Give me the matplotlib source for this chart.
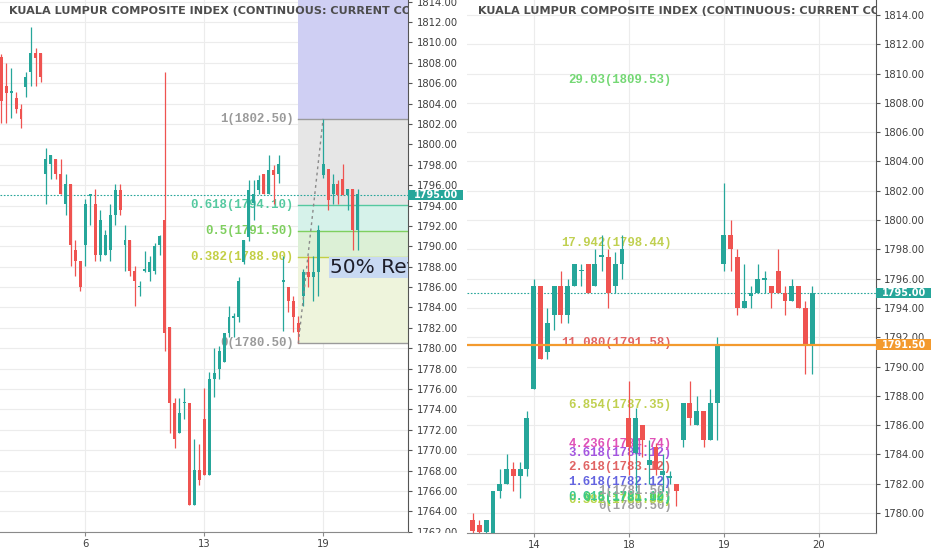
import numpy as np
import matplotlib
matplotlib.use("Agg")
import matplotlib.pyplot as plt
import matplotlib.transforms as mtransforms
from matplotlib.patches import Rectangle

TEAL = "#26a69a"
RED = "#ef5350"
ORANGE = "#f39a2e"
TXT = "#3f3f3f"
TITLE = "KUALA LUMPUR COMPOSITE INDEX (CONTINUOUS: CURRENT CONTRACT IN FRONT)"

# ---- left panel: hourly bars ----
left_open = [1808.6, 1805.7, 1805.0, 1804.5, 1803.5, 1805.6, 1807.1, 1809.0, 1809.0, 1797.1,
             1798.1, 1798.6, 1797.1, 1794.1, 1796.1, 1789.6, 1788.6, 1790.1, 1794.9, 1794.1,
             1789.1, 1789.1, 1789.6, 1793.1, 1795.5, 1790.1, 1790.6, 1787.6, 1786.0, 1787.6,
             1787.5, 1787.6, 1790.1, 1792.6, 1782.1, 1774.6, 1771.7, 1774.6, 1774.6, 1764.6,
             1768.1, 1773.1, 1767.6, 1777.0, 1778.0, 1778.6, 1781.5, 1783.0, 1783.1, 1788.5,
             1790.9, 1794.2, 1795.5, 1797.1, 1795.1, 1797.5, 1797.1, 1786.5, 1786.0, 1784.6,
             1782.5, 1785.1, 1787.5, 1787.0, 1787.5, 1797.0, 1797.6, 1795.1, 1796.1, 1796.6,
             1795.0, 1795.6, 1791.6]
left_high = [1808.9, 1808.0, 1807.5, 1805.1, 1804.0, 1807.1, 1811.5, 1809.5, 1809.0, 1799.6,
             1799.0, 1798.6, 1798.6, 1797.1, 1796.1, 1790.6, 1788.6, 1794.6, 1795.1, 1795.6,
             1793.6, 1791.6, 1794.1, 1796.1, 1796.1, 1792.1, 1790.6, 1788.1, 1786.6, 1789.5,
             1789.0, 1790.3, 1791.1, 1807.1, 1782.1, 1775.1, 1775.1, 1776.1, 1774.6, 1771.1,
             1770.6, 1776.1, 1777.7, 1780.0, 1780.2, 1781.5, 1784.1, 1783.5, 1787.0, 1790.6,
             1796.5, 1796.5, 1797.0, 1797.1, 1799.0, 1798.0, 1799.0, 1789.0, 1786.0, 1785.1,
             1783.2, 1787.8, 1789.0, 1789.0, 1792.1, 1802.5, 1797.6, 1797.1, 1796.5, 1798.1,
             1795.6, 1795.6, 1795.6]
left_low = [1802.1, 1802.1, 1802.6, 1803.1, 1801.6, 1804.6, 1805.7, 1805.7, 1806.1, 1794.1,
            1796.6, 1796.6, 1795.1, 1793.1, 1788.1, 1787.1, 1785.6, 1788.1, 1792.1, 1788.6,
            1788.6, 1789.1, 1788.6, 1792.1, 1793.1, 1787.6, 1787.1, 1784.1, 1785.1, 1787.5,
            1786.6, 1787.3, 1789.1, 1779.7, 1771.7, 1770.2, 1771.7, 1773.1, 1764.6, 1764.6,
            1766.6, 1767.6, 1767.6, 1775.2, 1777.0, 1778.6, 1781.1, 1781.1, 1782.6, 1788.3,
            1790.5, 1792.6, 1795.1, 1795.1, 1795.1, 1794.1, 1796.2, 1781.7, 1783.6, 1781.6,
            1780.5, 1784.1, 1786.0, 1784.6, 1785.1, 1796.7, 1793.6, 1794.1, 1794.1, 1795.0,
            1793.6, 1789.6, 1789.6]
left_close = [1804.3, 1805.0, 1805.2, 1803.5, 1802.5, 1806.6, 1809.0, 1808.5, 1806.6, 1798.6,
              1799.0, 1797.1, 1795.1, 1796.1, 1790.1, 1788.6, 1786.0, 1794.1, 1795.1, 1789.1,
              1792.6, 1791.1, 1793.1, 1795.5, 1793.6, 1790.6, 1787.6, 1786.6, 1786.1, 1787.8,
              1788.5, 1790.0, 1791.0, 1781.5, 1774.6, 1771.1, 1773.6, 1774.7, 1764.6, 1768.1,
              1767.1, 1767.6, 1777.0, 1777.6, 1779.7, 1781.5, 1783.1, 1783.1, 1786.6, 1790.6,
              1795.5, 1795.1, 1796.5, 1795.1, 1797.5, 1797.0, 1798.1, 1786.7, 1784.6, 1783.1,
              1781.6, 1787.5, 1787.0, 1787.5, 1791.6, 1798.1, 1794.5, 1796.1, 1795.0, 1795.0,
              1795.6, 1791.6, 1795.1]
left_tick_pos = [17, 41, 65]
left_tick_lab = ["6", "13", "19"]

# fib retracement drawn on the left panel (bar 60 low -> bar 65 high)
fib_left_levels = [0, 0.382, 0.5, 0.618, 1]
fib_left_low, fib_left_high = 1780.5, 1802.5
fib_left_colors = ["#9a9a9a", "#c3cf45", "#7fcf5f", "#55c9a0", "#9a9a9a"]

# ---- right panel: 30 minute bars ----
right_open = [1779.5, 1779.2, 1778.7, 1778.0, 1781.5, 1782.0, 1783.0, 1782.5, 1783.0, 1788.5,
              1795.5, 1791.0, 1793.5, 1795.5, 1793.5, 1795.5, 1796.5, 1797.0, 1795.5, 1797.5,
              1797.5, 1795.5, 1797.0, 1786.5, 1784.1, 1786.0, 1783.3, 1784.5, 1782.6, 1782.4,
              1782.0, 1785.0, 1787.5, 1786.0, 1787.0, 1785.0, 1787.5, 1797.0, 1799.0, 1797.5,
              1794.0, 1794.8, 1795.0, 1795.9, 1795.5, 1796.5, 1795.0, 1794.5, 1795.5, 1794.0,
              1791.5]
right_high = [1780.0, 1779.5, 1779.5, 1781.5, 1783.0, 1784.0, 1783.5, 1783.5, 1787.0, 1796.0,
              1795.5, 1794.0, 1795.5, 1796.5, 1796.0, 1797.0, 1797.0, 1797.0, 1798.0, 1799.0,
              1798.0, 1797.8, 1799.0, 1789.0, 1787.2, 1786.0, 1785.0, 1784.8, 1784.0, 1782.9,
              1782.0, 1787.5, 1789.0, 1788.0, 1787.0, 1788.5, 1792.0, 1802.5, 1800.0, 1798.0,
              1797.0, 1795.5, 1797.0, 1796.5, 1795.5, 1798.0, 1795.5, 1796.0, 1795.5, 1794.5,
              1795.5]
right_low = [1778.0, 1778.0, 1778.2, 1777.5, 1781.0, 1782.0, 1781.5, 1781.0, 1782.5, 1788.5,
             1790.5, 1790.5, 1792.5, 1793.0, 1793.0, 1795.5, 1795.5, 1795.0, 1795.5, 1796.5,
             1794.0, 1795.0, 1796.0, 1782.6, 1781.5, 1783.8, 1782.0, 1782.6, 1781.5, 1782.0,
             1780.5, 1784.5, 1786.0, 1786.0, 1784.5, 1785.0, 1785.0, 1796.5, 1796.5, 1793.5,
             1794.0, 1794.0, 1795.0, 1795.0, 1794.0, 1795.0, 1793.5, 1794.5, 1794.0, 1789.5,
             1789.5]
right_close = [1778.8, 1778.7, 1779.5, 1781.5, 1782.0, 1783.0, 1782.5, 1783.0, 1786.5, 1795.5,
               1790.5, 1793.0, 1795.5, 1793.5, 1795.5, 1797.0, 1796.6, 1795.0, 1797.0, 1797.6,
               1795.0, 1797.0, 1798.0, 1784.5, 1786.5, 1785.0, 1783.6, 1783.0, 1782.9, 1782.5,
               1781.5, 1787.5, 1786.5, 1787.0, 1785.0, 1787.5, 1791.5, 1799.0, 1798.0, 1794.0,
               1794.5, 1795.0, 1796.0, 1796.0, 1795.0, 1795.0, 1794.5, 1795.5, 1794.0, 1791.5,
               1795.0]
right_tick_pos = [9, 23, 37, 51]
right_tick_lab = ["14", "18", "19", "20"]

# fib extension labels on the right panel (0 = 1780.50, 1 = 1781.50)
fib_right_levels = [0, 0.382, 0.5, 0.618, 1, 1.618, 2.618, 3.618, 4.236, 6.854, 11.080, 17.942, 29.03]
fib_right_low, fib_right_high = 1780.5, 1781.5
fib_right_colors = ["#a0a0a0", "#b9d64a", "#55d255", "#3ec98f", "#a0a0a0", "#6464e0", "#e06464",
                    "#a455e0", "#e052b8", "#c0d050", "#e06464", "#c0d050", "#74d874"]
fib_right_names = ["0", "0.382", "0.5", "0.618", "1", "1.618", "2.618", "3.618", "4.236",
                   "6.854", "11.080", "17.942", "29.03"]

last_price = 1795.00
hline_price = 1791.50


def draw_candles(ax, o, h, l, c, width):
    o, h, l, c = map(np.asarray, (o, h, l, c))
    x = np.arange(len(o))
    cols = np.where(c >= o, TEAL, RED)
    ax.vlines(x, l, h, colors=cols, lw=0.9, zorder=3)
    ax.bar(x, np.maximum(np.abs(c - o), 0.12), width, bottom=np.minimum(o, c),
           color=cols, linewidth=0, zorder=3.1)


def style_axes(ax, ticks, labels, ylo, yhi):
    ax.set_yticks(np.arange(ylo, yhi + 0.1, 2))
    ax.yaxis.set_major_formatter(matplotlib.ticker.FormatStrFormatter("%.2f"))
    ax.yaxis.tick_right()
    ax.set_xticks(ticks)
    ax.set_xticklabels(labels)
    ax.grid(True, color="#ececec", lw=0.8, zorder=0)
    ax.set_axisbelow(True)
    for s in ["top", "left"]:
        ax.spines[s].set_visible(False)
    ax.spines["right"].set_color("#555555")
    ax.spines["bottom"].set_color("#8a8a8a")
    ax.tick_params(axis="y", length=3, width=0.8, color="#555555", labelsize=7.2,
                   labelcolor=TXT, pad=3)
    ax.tick_params(axis="x", length=3, width=0.8, color="#8a8a8a", labelsize=7.2,
                   labelcolor=TXT, pad=2)


def price_box(ax, price, text, color, box_w, box_h):
    tr = mtransforms.blended_transform_factory(ax.transAxes, ax.transData)
    ax.add_patch(Rectangle((1.0, price - box_h / 2), box_w, box_h, transform=tr,
                           facecolor=color, edgecolor="none", clip_on=False, zorder=8))
    ax.text(1.0 + box_w / 2, price, text, transform=tr, ha="center", va="center",
            color="white", fontsize=7, fontweight="bold", clip_on=False, zorder=9)


fig = plt.figure(figsize=(9.32, 5.5), dpi=100)

# ---------------- left ----------------
axl = fig.add_axes([0.0, 18 / 550, 408.3 / 932, 532 / 550])
draw_candles(axl, left_open, left_high, left_low, left_close, 0.6)
axl.set_xlim(-0.24, 82.2)
axl.set_ylim(1761.97, 1814.16)
style_axes(axl, left_tick_pos, left_tick_lab, 1762, 1814)

fx = [60, 90]
band_cols = ["#eef4dc", "#dcf0d6", "#d6f2ea", "#e6e6e6"]
prices = [fib_left_low + lv * (fib_left_high - fib_left_low) for lv in fib_left_levels]
for k in range(4):
    axl.fill_between(fx, prices[k], prices[k + 1], color=band_cols[k], lw=0, zorder=1)
axl.fill_between(fx, prices[-1], 1820, color="#cfcff3", lw=0, zorder=1)
for lv, p, col in zip(fib_left_levels, prices, fib_left_colors):
    axl.plot(fx, [p, p], color=col, lw=1.0, zorder=1.5)
    axl.text(59.1, p, "%g(%.2f)" % (lv, p), ha="right", va="center", color=col,
             fontsize=8.9, family="Liberation Mono", fontweight="bold", zorder=2)
axl.plot([60, 65], [fib_left_low, fib_left_high], color="#8a8a8a", lw=1.0,
         ls=(0, (2, 2.5)), zorder=4)
axl.text(66.4, 1787.9, "50% Retracement", ha="left", va="center", fontsize=14.5,
         color="#1e1e2a", zorder=5, clip_on=True,
         bbox=dict(boxstyle="square,pad=0.06", fc="#c8d9f2", ec="none"))
axl.axhline(last_price, color=TEAL, lw=0.8, ls=(0, (1.5, 1.5)), zorder=2)
axl.text(9 / 408, 1 - 11 / 532, TITLE, transform=axl.transAxes, ha="left", va="center",
         fontsize=8.1, fontweight="bold", color="#4d4d4d", clip_on=True, zorder=10)
price_box(axl, last_price, "1795.00", TEAL, 55 / 408, 1.0)

# ---------------- right ----------------
axr = fig.add_axes([466.7 / 932, 17 / 550, 409.3 / 932, 533 / 550])
draw_candles(axr, right_open, right_high, right_low, right_close, 0.72)
axr.set_xlim(-0.87, 59.4)
axr.set_ylim(1778.64, 1815.02)
style_axes(axr, right_tick_pos, right_tick_lab, 1780, 1814)

for lv, nm, col in zip(fib_right_levels, fib_right_names, fib_right_colors):
    p = fib_right_low + lv * (fib_right_high - fib_right_low)
    axr.text(29.3, p, "%s(%.2f)" % (nm, p), ha="right", va="center", color=col,
             fontsize=8.9, family="Liberation Mono", fontweight="bold", zorder=2)
axr.axhline(last_price, color=TEAL, lw=0.8, ls=(0, (1.5, 1.5)), zorder=2)
axr.axhline(hline_price, color=ORANGE, lw=1.6, zorder=5)
axr.text(11 / 409, 1 - 11 / 533, TITLE, transform=axr.transAxes, ha="left", va="center",
         fontsize=8.1, fontweight="bold", color="#4d4d4d", clip_on=True, zorder=10)
price_box(axr, last_price, "1795.00", TEAL, 55.3 / 409.3, 0.68)
price_box(axr, hline_price, "1791.50", ORANGE, 55.3 / 409.3, 0.7)

# the lowest left price label is cut off by the panel edge
fig.patches.append(Rectangle((409.5 / 932, 0), 56 / 932, 17.5 / 550, transform=fig.transFigure,
                             facecolor="white", edgecolor="none", zorder=20))

fig.savefig("out.png", dpi=100)
